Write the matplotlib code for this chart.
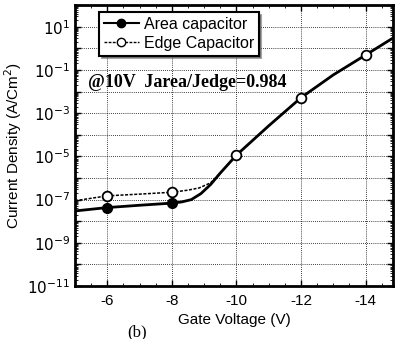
import numpy as np
import matplotlib
matplotlib.use("Agg")
import matplotlib.pyplot as plt
from matplotlib.ticker import LogLocator, MultipleLocator, FixedLocator, NullFormatter

# Area capacitor: measured curve and marker points
area_v = [-5, -6, -7, -8, -8.3, -8.6, -8.9, -9.2, -9.5, -10, -11, -12, -13, -14, -14.85]
area_j = [3.0e-8, 4.3e-8, 5.5e-8, 6.9e-8, 7.8e-8, 1.0e-7, 1.9e-7, 5.0e-7,
          1.7e-6, 1.15e-5, 2.6e-4, 5.2e-3, 5.9e-2, 4.9e-1, 3.0]
area_mv = [-6, -8]
area_mj = [4.3e-8, 6.9e-8]

# Edge capacitor
edge_v = [-5, -6, -7, -8, -8.5, -8.85, -9.2, -9.5, -10, -11, -12, -13, -14, -14.85]
edge_j = [8.9e-8, 1.5e-7, 1.8e-7, 2.2e-7, 2.75e-7, 3.5e-7, 6.0e-7, 1.7e-6,
          1.15e-5, 2.6e-4, 5.2e-3, 5.9e-2, 4.9e-1, 3.0]
edge_mv = [-6, -8, -10, -12, -14]
edge_mj = [1.5e-7, 2.2e-7, 1.15e-5, 5.2e-3, 4.9e-1]

plt.rcParams["font.family"] = ["Liberation Sans", "DejaVu Sans"]
plt.rcParams["axes.unicode_minus"] = False

fig = plt.figure(figsize=(3.99, 3.39), dpi=100)
ax = fig.add_axes([0.188, 0.156, 0.797, 0.829])

ax.plot(edge_v, edge_j, color="black", lw=1.1, ls=(0, (2, 1)))
ax.plot(area_v, area_j, color="black", lw=2.0)
ax.plot(edge_mv, edge_mj, ls="none", marker="o", ms=7, mfc="white",
        mec="black", mew=1.3)
ax.plot(area_mv, area_mj, ls="none", marker="o", ms=7, mfc="black",
        mec="black")

ax.set_yscale("log")
ax.set_xlim(-5, -14.85)
ax.set_ylim(1e-11, 1e2)

ax.xaxis.set_major_locator(FixedLocator([-6, -8, -10, -12, -14]))
ax.xaxis.set_minor_locator(MultipleLocator(0.5))
ax.yaxis.set_major_locator(FixedLocator([10.0 ** k for k in range(-11, 3)]))
ax.yaxis.set_major_formatter(
    matplotlib.ticker.FuncFormatter(
        lambda v, p: f"$10^{{{int(round(np.log10(v)))}}}$"
        if int(round(np.log10(v))) % 2 else ""))
ax.yaxis.set_minor_locator(LogLocator(base=10, subs=np.arange(2, 10), numticks=30))
ax.yaxis.set_minor_formatter(NullFormatter())

ax.tick_params(which="both", direction="in", top=True, right=True, labelsize=11)
ax.tick_params(axis="x", pad=6)
ax.tick_params(which="major", length=4, width=1)
ax.tick_params(which="minor", length=2, width=0.6)
for s in ax.spines.values():
    s.set_linewidth(2)

ax.grid(True, which="major", color="black", ls=(0, (1, 1.5)), lw=0.6)

ax.set_xlabel("Gate Voltage (V)", fontsize=11, labelpad=3)
ax.set_ylabel("Current Density (A/Cm$^2$)", fontsize=11, labelpad=2)

leg_handles = [
    plt.Line2D([], [], color="black", lw=1.5, marker="o", ms=6, mfc="black"),
    plt.Line2D([], [], color="black", lw=1.0, ls=(0, (2, 1)), marker="o", ms=6,
               mfc="white"),
]
leg = ax.legend(leg_handles, ["Area capacitor", "Edge Capacitor"],
                loc="upper left", bbox_to_anchor=(0.075, 0.975), fontsize=11.5,
                frameon=True, fancybox=False, shadow=True, handlelength=2.2,
                borderpad=0.3, labelspacing=0.25, handletextpad=0.3,
                borderaxespad=0)
leg.get_frame().set_edgecolor("black")
leg.get_frame().set_linewidth(1.5)

ax.text(0.04, 0.725, "@10V  Jarea/Jedge=0.984", transform=ax.transAxes,
        family=["Liberation Serif", "DejaVu Serif"], fontweight="bold",
        fontsize=13, va="center", ha="left")

fig.text(0.343, 0.02, "(b)", family=["Liberation Serif", "DejaVu Serif"],
         fontsize=12, ha="center", va="center")

fig.savefig("out.png", dpi=100)
